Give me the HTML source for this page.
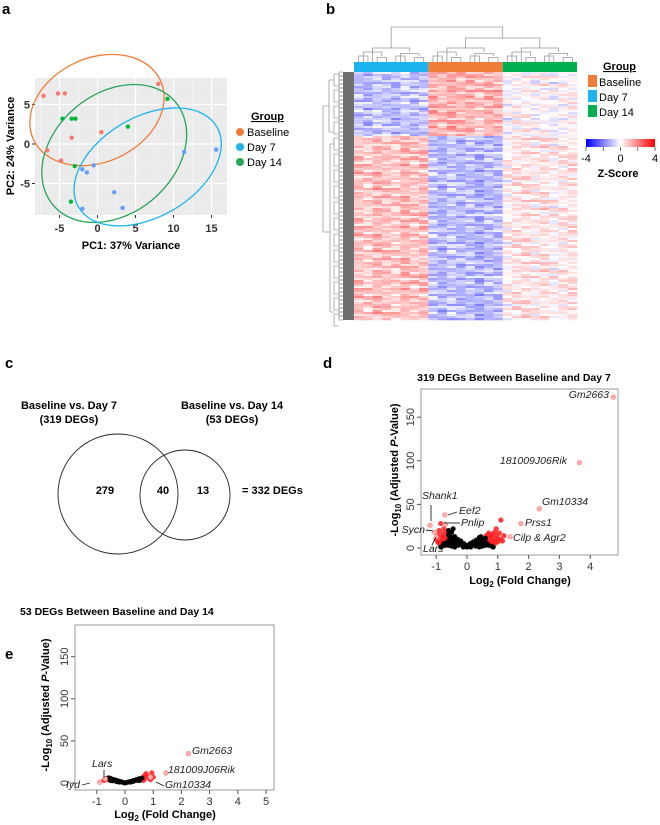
<!DOCTYPE html>
<html><head><meta charset="utf-8"><style>
html,body{margin:0;padding:0;background:#fff}
svg{display:block;font-family:"Liberation Sans",Arial,sans-serif}
</style></head><body>
<svg id="fig" width="660" height="825" viewBox="0 0 660 825">
<g id="pa"></g>
<g id="pb"></g>
<g id="pc"></g>
<g id="pd"></g>
<g id="pe"></g>
</svg>
<script>
const NS='http://www.w3.org/2000/svg';
function mk(p,tag,at,txt){const e=document.createElementNS(NS,tag);for(const k in at)e.setAttribute(k,at[k]);if(txt!==undefined)e.textContent=txt;p.appendChild(e);return e;}

// ===== Panel A data =====
const pcaXTicks=[-5,0,5,10,15];
const pcaYTicks=[-5,0,5];
const baselineX=[-7.1,-5.2,-4.3,8.0,-3.4,0.5,-6.6,-4.8];
const baselineY=[6.1,6.4,6.4,7.6,0.8,1.5,-0.8,-2.1];
const day7X=[-2.0,-1.4,-0.5,2.2,3.3,-2.0,11.4,15.6];
const day7Y=[-3.2,-3.6,-2.7,-6.1,-8.1,-8.2,-1.0,-0.7];
const day14X=[-4.6,-3.4,-2.9,9.2,4.0,-3.0,-3.5];
const day14Y=[3.2,3.2,3.2,5.7,2.2,-2.8,-7.3];
const ellCX=[-0.07,2.2,6.6];   // baseline, day14, day7 (data units)
const ellCY=[4.3,-1.2,-2.9];

// ===== Panel D/E data =====
const dXTicks=[-1,0,1,2,3,4];
const eXTicks=[-1,0,1,2,3,4,5];
const vYTicks=[0,50,100,150];
const dBlackX=[0,0.05,-0.05,0.1,-0.1,0.15,-0.15,0.2,-0.2,0.25,-0.25,0.3,-0.3,0.35,-0.35,0.4,-0.4,0.45,-0.45,0.5,-0.5,0.55,-0.55,-0.6,0.4,-0.5,-0.45,-0.6,0.3,-0.2,0.2,0.1,-0.1,0,0.6,-0.4,0.45,-0.3,-0.55,0.52,-0.35,0.35,-0.52,0.58,-0.58,0.12,-0.12,0.28,-0.28,0.42,-0.42,-0.7,-0.8,-0.75,0.7,0.8,0.65,-0.65,-0.85,0.85,-0.6,0.6,0.5,-0.5,0.4,-0.4];
const dBlackY=[1,2,2,3,2,3,4,4,5,4,6,5,7,6,8,7,9,8,10,9,12,10,13,15,12,18,22,20,9,8,7,5,5,3,11,13,13,10,6,5,4,3,7,6,9,1,1,2,3,3,4,3,2,5,3,2,5,6,1,1,3,3,2,2,1,1];
const dRedX=[0.65,0.7,0.75,0.8,0.85,0.9,0.95,0.7,0.65,0.8,1.0,1.1,1.2,0.9,0.95,1.1,-0.65,-0.7,-0.75,-0.8,-0.85,-0.9,-0.95,-1.0,-0.7,-0.75,-0.6,-0.85,-0.8,0.75,1.05,0.62,0.68,0.72,-0.62,-0.68,-0.72,0.88,1.15,-0.92,0.7,0.75,0.8,0.85,0.9,0.65,-0.65,-0.7,-0.75,-0.8,-0.85,-0.9,0.62,0.78,0.92,-0.62,-0.78,-0.95,1.0,0.7];
const dRedY=[5,8,10,6,12,9,14,14,12,16,11,10,14,18,22,32,10,14,8,16,12,20,15,10,18,22,12,28,5,4,17,8,6,12,8,6,11,4,8,6,11,7,9,7,5,9,7,9,6,10,7,5,14,13,7,16,13,7,7,17];
const dLabX=[4.75,3.65,2.35,1.75,1.4,-1.2,-0.72,-0.7,-1.05,-1.0];
const dLabY=[173,98,45,28,13,26,38,27,18,13];
const eBlackX=[0,0.05,-0.05,0.1,-0.1,0.15,-0.15,0.2,-0.2,0.25,-0.25,0.3,-0.3,0.35,-0.35,0.4,-0.4,0.45,-0.45,0.5,-0.5,0.55,-0.55,0.6,-0.6,0.3,-0.3,0.45,-0.45,0.2,-0.2,0.52,-0.52];
const eBlackY=[0,0.5,0.5,1,1,1,1.5,2,2,2,2.5,3,3,3,3.5,4,4,4,4.5,5,5,5,6,6,6,2,1.5,3,2.5,1,1,3,3];
const eRedX=[0.65,0.7,0.75,0.8,0.85,0.95,1.0,-0.65,-0.7,-0.75,0.7,0.9];
const eRedY=[3,5,11,8,6,12,7,4,5,3,9,4];
const eLabX=[2.25,1.45,0.9,-0.7,-0.9];
const eLabY=[35,12,7,5,1];

// ===== Panel B data =====
const hmGroups=['Day 7','Baseline','Day 14'];
const hmColsPerGroup=8;
const blockRows=[32,92];
const blockMeanDay7=[-1.0,0.9];
const blockMeanBaseline=[1.1,-1.1];
const blockMeanDay14=[0.0,0.3];
const rowNoise=[0.3,-0.5,0.8,-0.2,0.1,-0.9,0.6,0.0,-0.4,1.0,-0.7,0.2,0.5,-0.1,-0.6,0.9,-0.3,0.4,-0.8,0.7,0.0,-0.2,0.6,-1.0,0.3,0.1,-0.5,0.8,-0.4,0.2,-0.7];
const colNoise=[0.2,-0.4,0.5,0.1,-0.3,0.6,-0.1,0.3,0.4,-0.2,0.6,0.0,0.3,-0.5,0.2,0.1,-0.3,0.2,0.5,-0.1,0.4,-0.4,0.1,0.3];

const gray='#333';
// ===== Panel A =====
(function(){
const g=document.getElementById('pa');
mk(g,'text',{x:2,y:14,'font-size':15,'font-weight':'bold'},'a');
const L=35,R=227,T=78,B=215;
const sx=v=>97.5+v*7.6, sy=v=>144-v*7.9;
const bg=mk(g,'rect',{x:L,y:T,width:R-L,height:B-T,fill:'#ebebeb'});

[-7.5,-2.5,2.5,7.5,12.5].forEach(v=>mk(g,'line',{x1:sx(v),x2:sx(v),y1:T,y2:B,stroke:'#f6f6f6','stroke-width':0.6}));
[-7.5,-2.5,2.5,7.5].forEach(v=>mk(g,'line',{x1:L,x2:R,y1:sy(v),y2:sy(v),stroke:'#f6f6f6','stroke-width':0.6}));
pcaXTicks.forEach(v=>{mk(g,'line',{x1:sx(v),x2:sx(v),y1:T,y2:B,stroke:'#fff','stroke-width':1.2});
 mk(g,'line',{x1:sx(v),x2:sx(v),y1:B,y2:B+3,stroke:gray});
 const t=mk(g,'text',{x:sx(v),y:B+17,'font-size':11,'font-weight':'bold','text-anchor':'middle',fill:gray},v);});
pcaYTicks.forEach(v=>{mk(g,'line',{x1:L,x2:R,y1:sy(v),y2:sy(v),stroke:'#fff','stroke-width':1.2});
 mk(g,'line',{x1:L-3,x2:L,y1:sy(v),y2:sy(v),stroke:gray});
 const t=mk(g,'text',{x:L-5,y:sy(v)+4,'font-size':11,'font-weight':'bold','text-anchor':'end',fill:gray},v);});
const xt=mk(g,'text',{x:131,y:249,'font-size':11,'font-weight':'bold','text-anchor':'middle'},'PC1: 37%  Variance');
const yt=mk(g,'text',{x:14,y:146,'font-size':11,'font-weight':'bold','text-anchor':'middle',transform:'rotate(-90 14 146)'},'PC2: 24%  Variance');
const cols=['#f07d37','#25a559','#1cb3ef'];
const rx=[70,80,80],ry=[52,60,50],rot=[-25,-40,-30];
for(let i=0;i<3;i++){const e=mk(g,'ellipse',{cx:sx(ellCX[i]),cy:sy(ellCY[i]),rx:rx[i],ry:ry[i],fill:'none',stroke:cols[i],'stroke-width':1.3,transform:`rotate(${rot[i]} ${sx(ellCX[i])} ${sy(ellCY[i])})`});
 }
function pts(X,Y,c,n){X.forEach((x,i)=>{const p=mk(g,'circle',{cx:sx(x),cy:sy(Y[i]),r:2.2,fill:c});});}
pts(baselineX,baselineY,'#f8766d','point-baseline');
pts(day7X,day7Y,'#619cff','point-day7');
pts(day14X,day14Y,'#00ba38','point-day14');
const lg=mk(g,'g',{});
mk(lg,'text',{x:251,y:120,'font-size':11,'font-weight':'bold','text-decoration':'underline'},'Group');
[['Baseline','#f07d37'],['Day 7','#1cb3ef'],['Day 14','#25a559']].forEach((d,i)=>{
 const e=mk(lg,'g',{});
 mk(e,'circle',{cx:240,cy:132+i*15,r:4,fill:d[1]});
 mk(e,'text',{x:247,y:136+i*15,'font-size':11},d[0]);});
})();

// ===== Panel B =====
(function(){
const g=document.getElementById('pb');
mk(g,'text',{x:326,y:14,'font-size':15,'font-weight':'bold'},'b');
const L=354,R=577,T=72,B=320;
const nC=hmGroups.length*hmColsPerGroup, cw=(R-L)/nC;
const totalRows=blockRows.reduce((a,b)=>a+b,0), rh=(B-T)/totalRows;
const means=[blockMeanDay7,blockMeanBaseline,blockMeanDay14];
function col(z){let t=Math.max(-1,Math.min(1,z/4));
 if(t<0){const k=Math.round(255*(1+t));return `rgb(${k},${k},255)`;} const k=Math.round(255*(1-t));return `rgb(255,${k},${k})`;}
let r=0;
blockRows.forEach((n,b)=>{for(let i=0;i<n;i++,r++){for(let c=0;c<nC;c++){
 const gi=Math.floor(c/hmColsPerGroup);
 const z=means[gi][b]+rowNoise[(r*7+c*3)%rowNoise.length]*0.7+colNoise[c]*0.4+rowNoise[r%rowNoise.length]*0.3;
 const cell=mk(g,'rect',{x:L+c*cw,y:T+r*rh,width:cw+0.3,height:rh+0.3,fill:col(z)});
 }}});
const gc=['#1cb3ef','#f07d37','#00b050'];
gc.forEach((c,i)=>{const a=mk(g,'rect',{x:L+i*hmColsPerGroup*cw,y:62,width:hmColsPerGroup*cw,height:10,fill:c});});
const dg=mk(g,'g',{stroke:'#999','stroke-width':0.8,fill:'none'});
const roots=[];
for(let gi=0;gi<3;gi++){let xs=[];for(let k=0;k<hmColsPerGroup;k++)xs.push(L+(gi*hmColsPerGroup+k+0.5)*cw);
 let h=[56,52,48],lv=0;
 while(xs.length>1){const nx=[];for(let k=0;k<xs.length;k+=2){const a=xs[k],b=xs[k+1],top=h[lv]+(k%4?1.5:0);
  mk(dg,'path',{d:`M${a} 62V${top}H${b}V62`.replace(/V62/g,'V'+(lv?h[lv-1]:62))});nx.push((a+b)/2);}xs=nx;lv++;}
 roots.push(xs[0]);}
mk(dg,'path',{d:`M${roots[1]} 48V38H${roots[2]}V48`});
const og=(roots[1]+roots[2])/2;
mk(dg,'path',{d:`M${roots[0]} 48V27H${og}V38`});
const lg=mk(g,'g',{stroke:'#777','stroke-width':0.6,fill:'none'});
mk(lg,'rect',{x:343,y:T,width:11,height:B-T,fill:'#707070',stroke:'none'});
for(let i=0;i<totalRows;i+=2){const y=T+(i+1)*rh;mk(lg,'path',{d:`M343 ${y-rh}H339V${y+rh}H343`});}
for(let i=0;i<totalRows;i+=8){const y=T+(i+4)*rh;mk(lg,'path',{d:`M339 ${y-3*rh}H334V${y+3*rh}H339`});}
mk(lg,'path',{d:`M334 ${T+4*rh}H329V${T+30*rh}H334`});
mk(lg,'path',{d:`M334 ${T+36*rh}H330V${B-4*rh}H334`});
mk(lg,'path',{d:`M329 ${T+17*rh}H323V${T+80*rh}H330`});
const le=mk(g,'g',{});
mk(le,'text',{x:603,y:70,'font-size':11,'font-weight':'bold','text-decoration':'underline'},'Group');
[['Baseline','#f07d37'],['Day 7','#1cb3ef'],['Day 14','#00b050']].forEach((d,i)=>{
 const e=mk(le,'g',{});
 mk(e,'rect',{x:588,y:75+i*15,width:9,height:12,fill:d[1]});
 mk(e,'text',{x:599,y:86+i*15,'font-size':11},d[0]);});
const cs=mk(g,'g',{});
const defs=mk(g,'defs',{});const lgr=mk(defs,'linearGradient',{id:'zg'});
mk(lgr,'stop',{offset:'0','stop-color':'#0000ff'});mk(lgr,'stop',{offset:'0.5','stop-color':'#ffffff'});mk(lgr,'stop',{offset:'1','stop-color':'#ff0000'});
mk(cs,'rect',{x:586,y:139,width:69,height:8,fill:'url(#zg)'});
[-4,-2,0,2,4].forEach(v=>{const x=586+(v+4)/8*69;mk(cs,'line',{x1:x,x2:x,y1:147,y2:151,stroke:'#333','stroke-width':0.7});});
[-4,0,4].forEach(v=>mk(cs,'text',{x:586+(v+4)/8*69,y:162,'font-size':11,'text-anchor':'middle'},v));
mk(cs,'text',{x:618,y:177,'font-size':11,'font-weight':'bold','text-anchor':'middle'},'Z-Score');
})();

// ===== Panel C =====
(function(){
const g=document.getElementById('pc');
mk(g,'text',{x:5,y:368,'font-size':15,'font-weight':'bold'},'c');
const c1=mk(g,'circle',{cx:118,cy:494,r:60,fill:'none',stroke:'#222','stroke-width':0.9});
const c2=mk(g,'circle',{cx:185,cy:495,r:45,fill:'none',stroke:'#222','stroke-width':0.9});
const t=(x,y,s,a,w,n)=>{const e=mk(g,'text',{x:x,y:y,'font-size':11,'font-weight':w||'bold','text-anchor':a||'middle'},s);};
t(69,409,'Baseline vs. Day 7','middle','bold','venn-title-day7');
t(69,423,'(319  DEGs)','middle','bold','venn-subtitle-day7');
t(232,409,'Baseline vs. Day 14','middle','bold','venn-title-day14');
t(232,423,'(53  DEGs)','middle','bold','venn-subtitle-day14');
t(105,494,'279','middle','bold','count-only-day7');
t(163,494,'40','middle','bold','count-overlap');
t(203,494,'13','middle','bold','count-only-day14');
t(242,494,'= 332  DEGs','start','bold','total-degs');
})();

// ===== Volcano =====
function volcano(g,cfg){
const {L,R,T,B,x0,ppx,y0,ppy,xt,blackX,blackY,redX,redY,labX,labY}=cfg;
const sx=v=>x0+v*ppx, sy=v=>y0-v*ppy;
const f=mk(g,'rect',{x:L,y:T,width:R-L,height:B-T,fill:'none',stroke:'#999','stroke-width':1});
xt.forEach(v=>{mk(g,'line',{x1:sx(v),x2:sx(v),y1:B,y2:B+4,stroke:'#555'});
 const e=mk(g,'text',{x:sx(v),y:B+15,'font-size':11,'text-anchor':'middle',fill:gray},v);});
vYTicks.forEach(v=>{mk(g,'line',{x1:L-4,x2:L,y1:sy(v),y2:sy(v),stroke:'#555'});
 const e=mk(g,'text',{x:L-7,y:sy(v),'font-size':11,'text-anchor':'middle',fill:gray,transform:`rotate(-90 ${L-7} ${sy(v)})`},v);});
redX.forEach((x,i)=>{const p=mk(g,'circle',{cx:sx(x),cy:sy(redY[i]),r:2.4,fill:'#ff1a1a','fill-opacity':0.85,stroke:'#ff4040','stroke-width':0.5});});
blackX.forEach((x,i)=>{const p=mk(g,'circle',{cx:sx(x),cy:sy(blackY[i]),r:2.5,fill:'#000'});});
labX.forEach((x,i)=>{const p=mk(g,'circle',{cx:sx(x),cy:sy(labY[i]),r:2.3,fill:'#ffb0b0',stroke:'#ff8080','stroke-width':0.6});});
return {sx,sy};}
function lab(g,x,y,s,anchor){const e=mk(g,'text',{x:x,y:y,'font-size':10.5,'font-style':'italic','text-anchor':anchor||'start',fill:'#222'},s);}
function ln(g,d){mk(g,'path',{d:d,stroke:'#222','stroke-width':0.9,fill:'none'});}
(function(){
const g=document.getElementById('pd');
mk(g,'text',{x:323,y:368,'font-size':15,'font-weight':'bold'},'d');
volcano(g,{L:421,R:618,T:389,B:555,x0:467,ppx:30.8,y0:548,ppy:0.872,xt:dXTicks,blackX:dBlackX,blackY:dBlackY,redX:dRedX,redY:dRedY,labX:dLabX,labY:dLabY});
const t=mk(g,'text',{x:514,y:381,'font-size':10.5,'font-weight':'bold','text-anchor':'middle'},'319  DEGs  Between Baseline and Day 7');
const xl=mk(g,'text',{x:520,y:584,'font-size':11,'font-weight':'bold','text-anchor':'middle'});
xl.innerHTML='Log<tspan font-size="8" dy="3">2</tspan><tspan dy="-3"> (Fold Change)</tspan>';
const yl=mk(g,'text',{x:398,y:470,'font-size':11,'font-weight':'bold','text-anchor':'middle',transform:'rotate(-90 398 470)'});
yl.innerHTML='-Log<tspan font-size="8" dy="3">10</tspan><tspan dy="-3"> (Adjusted </tspan><tspan font-style="italic">P</tspan>-Value)';
lab(g,609,398,'Gm2663','end');lab(g,567,464,'181009J06Rik','end');lab(g,542,505,'Gm10334');
lab(g,525,526,'Prss1');lab(g,513,541,'Cilp & Agr2');
lab(g,422,499,'Shank1');ln(g,'M431 505V521');
lab(g,459,514,'Eef2');ln(g,'M448 515L457 512');
lab(g,461,526,'Pnlip');ln(g,'M444 523H460');
lab(g,425,533,'Sycn','end');ln(g,'M426 530L433 531');
lab(g,423,552,'Lars');ln(g,'M432 545L436 537');
})();
(function(){
const g=document.getElementById('pe');
mk(g,'text',{x:5,y:659,'font-size':15,'font-weight':'bold'},'e');
const t=mk(g,'text',{x:20,y:615,'font-size':10.5,'font-weight':'bold'},'53  DEGs  Between Baseline and Day 14');
volcano(g,{L:75,R:274,T:625,B:790,x0:125,ppx:28.2,y0:783,ppy:0.842,xt:eXTicks,blackX:eBlackX,blackY:eBlackY,redX:eRedX,redY:eRedY,labX:eLabX,labY:eLabY});
const xl=mk(g,'text',{x:165,y:818,'font-size':11,'font-weight':'bold','text-anchor':'middle'});
xl.innerHTML='Log<tspan font-size="8" dy="3">2</tspan><tspan dy="-3"> (Fold Change)</tspan>';
const yl=mk(g,'text',{x:49,y:705,'font-size':11,'font-weight':'bold','text-anchor':'middle',transform:'rotate(-90 49 705)'});
yl.innerHTML='-Log<tspan font-size="8" dy="3">10</tspan><tspan dy="-3"> (Adjusted </tspan><tspan font-style="italic">P</tspan>-Value)';
lab(g,192,754,'Gm2663');lab(g,168,773,'181009J06Rik');lab(g,165,788,'Gm10334');ln(g,'M156 782L164 786');
lab(g,92,767,'Lars');ln(g,'M104 770V778');
lab(g,80,788,'Iyd','end');ln(g,'M82 785L90 783');
})();
</script>
</body></html>
